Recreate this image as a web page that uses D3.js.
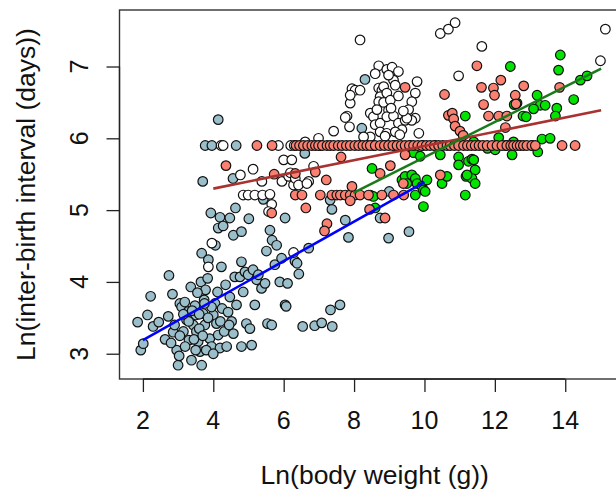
<!DOCTYPE html>
<html>
<head>
<meta charset="utf-8">
<script src="https://cdn.jsdelivr.net/npm/d3@7"></script>
<style>
  html, body { margin: 0; padding: 0; background: #fff; }
  svg { display: block; font-family: "Liberation Sans", Arial, sans-serif; }
</style>
</head>
<body>
<svg id="chart" width="616" height="491"></svg>
<script>
// Ln(body weight) vs Ln(inter-birth interval), four groups plus per-group fits

const xTicks = [2, 4, 6, 8, 10, 12, 14];
const yTicks = [3, 4, 5, 6, 7];
const xTitle = "Ln(body weight (g))";
const yTitle = "Ln(inter-birth interval (days))";

// light blue group
const bluePts = [
  [1.85,3.44],[1.94,3.05],[2.01,3.14],[2.13,3.54],[2.22,3.80],[2.29,3.38],[2.45,3.44],[2.63,3.20],
  [2.74,4.09],[2.72,3.52],[2.84,3.83],[2.86,3.30],[2.96,3.05],[3.00,2.84],[3.03,2.97],[3.05,3.70],
  [3.10,3.65],[3.15,3.31],[3.19,3.72],[3.24,3.47],[3.29,3.59],[3.31,3.19],[3.36,3.93],[3.38,2.91],
  [3.43,3.40],[3.48,3.67],[3.50,3.54],[3.52,3.31],[3.57,3.17],[3.62,3.03],[3.65,4.00],[3.67,2.84],
  [3.67,4.40],[3.71,3.56],[3.74,3.75],[3.76,3.40],[3.78,3.89],[3.84,4.05],[3.86,4.31],[3.90,3.21],
  [3.95,3.10],[4.00,3.54],[4.05,3.70],[4.06,4.51],[4.09,3.42],[4.12,3.86],[4.14,3.26],[4.19,3.08],
  [4.23,4.21],[4.25,3.63],[4.31,3.31],[4.35,3.96],[4.38,3.10],[4.42,3.58],[4.47,3.79],[4.52,3.45],
  [4.57,3.28],[4.61,4.07],[4.66,3.68],[4.76,4.07],[4.80,3.10],[4.85,3.86],[4.90,4.14],[4.94,3.42],
  [4.99,4.10],[5.04,3.35],[5.09,3.12],[5.13,4.17],[5.18,3.68],[5.23,4.03],[5.28,4.10],[5.37,3.91],
  [5.47,3.98],[5.51,4.43],[5.54,3.42],[5.61,4.72],[5.66,3.40],[5.67,4.58],[5.75,4.24],[5.80,4.51],
  [5.89,4.00],[5.94,4.33],[6.04,3.68],[4.14,4.75],[4.57,4.65],[4.80,4.70],[4.80,4.28],
  [3.20,3.10],[3.45,3.20],[3.60,3.35],[3.70,3.25],[3.85,3.50],[3.95,3.65],[3.55,3.85],[3.30,3.45],
  [3.15,3.55],[2.90,3.40],[3.05,3.25],[3.40,3.60],[3.80,3.05],[4.20,3.45],[4.00,3.00],[3.60,3.55],
  [3.75,3.70],[2.80,3.15],[3.50,3.05],[4.45,3.40],
  [4.14,6.26],[3.77,5.90],[3.96,5.90],[4.65,5.90],[3.70,5.40],[4.56,5.44],[5.42,5.15],[3.93,4.96],
  [4.19,4.90],[4.47,4.89],[4.63,5.03],[5.01,4.88],[4.28,4.78],[6.04,4.89],[6.60,5.79],[6.32,4.29],
  [6.38,4.26],[6.43,4.11],[6.54,3.38],[6.71,4.47],[6.88,3.39],[7.08,3.43],[7.33,3.61],[7.38,3.38],
  [7.60,3.68],[7.32,5.14],[7.37,5.01],[7.75,4.86],[7.84,4.62],[8.22,6.14],[8.31,6.82],[8.74,4.89],
  [8.98,4.61],[9.56,4.70],[9.00,5.26],[6.11,3.98],[6.07,3.66]
];

// open (unfilled) group
const openPts = [
  [3.96,4.54],[3.86,4.21],[4.22,5.90],[4.28,5.90],[5.85,5.90],[6.61,5.95],[6.99,6.00],[6.00,5.70],
  [6.23,5.70],[5.13,5.57],[4.77,5.49],[5.38,5.40],[5.95,5.40],[6.14,5.47],[6.28,5.35],[6.71,5.40],
  [6.85,5.61],[6.19,5.52],[6.33,5.44],[6.42,5.35],[6.66,5.37],[4.85,5.21],[4.99,5.21],[5.18,5.21],
  [5.40,5.21],[5.61,5.22],[5.66,5.08],[5.57,4.98],[6.28,4.41],[7.42,6.10],[7.80,6.31],[7.87,6.16],
  [7.89,6.49],[7.94,6.69],[8.03,6.67],[8.17,6.67],[7.89,6.60],[7.75,6.29],[8.17,7.37],[8.70,7.01],
  [8.60,6.90],[8.93,6.96],[9.08,6.99],[9.26,6.93],[9.12,6.81],[9.79,6.79],[9.74,6.63],[9.64,6.51],
  [9.55,6.40],[9.74,6.28],[8.70,6.70],[8.79,6.67],[8.84,6.72],[8.74,6.58],[8.93,6.63],[8.70,6.51],
  [8.84,6.50],[9.03,6.53],[9.26,6.59],[8.98,6.39],[8.46,6.35],[8.55,6.30],[8.60,6.19],[8.74,6.21],
  [8.93,6.30],[9.12,6.31],[9.26,6.21],[9.45,6.25],[9.36,6.12],[9.64,6.25],[8.74,6.09],[8.93,6.07],
  [9.17,6.09],[8.46,6.02],[9.84,6.07],[8.27,6.02],[8.88,6.03],[10.45,7.46],[10.68,7.52],[10.87,7.61],
  [11.63,7.28],[10.97,6.87],[15.14,7.52],[15.00,7.08],[9.50,6.28],[8.98,6.88],[9.17,6.74],[9.05,6.42],
  [8.65,6.40],[9.40,6.38],[9.30,6.05],[6.20,5.90],[6.30,5.90],[7.05,5.90],[8.55,5.90],[9.15,5.90],
  [9.60,5.90]
];

// green group
const greenPts = [
  [8.46,5.21],[8.55,5.19],[8.51,5.58],[8.60,5.03],[9.36,5.42],[9.45,5.47],[9.50,5.37],[9.64,5.49],
  [9.74,5.44],[9.79,5.37],[9.74,5.21],[9.93,5.33],[9.97,5.28],[10.02,5.26],[9.97,5.05],[10.07,5.42],
  [9.69,5.80],[9.88,5.75],[10.45,5.77],[10.50,5.37],[10.64,5.47],[10.97,5.74],[10.97,5.63],[11.16,5.21],
  [11.18,5.47],[11.25,5.68],[11.35,5.71],[11.40,5.70],[11.44,5.56],[11.35,5.44],[11.44,5.37],[11.21,5.49],
  [11.16,6.31],[11.40,5.95],[11.79,5.86],[12.11,6.01],[12.01,5.84],[12.49,5.77],[12.53,5.95],[13.22,5.81],
  [13.34,5.99],[13.57,6.00],[12.44,7.00],[13.86,7.16],[13.81,6.95],[14.43,6.81],[14.62,6.87],[14.24,6.54],
  [13.20,6.60],[13.29,6.46],[13.10,6.41],[13.43,6.46],[12.63,6.49],[12.55,6.47],[12.80,6.31],[12.89,6.30],
  [13.76,6.42],[13.72,6.31],[10.30,5.90],[12.30,5.90],[13.05,5.90],[9.95,5.90]
];

// salmon group
const salmonPts = [
  // annual interval (ln 365)
  [5.24,5.90],[5.67,5.90],[6.35,5.90],[6.45,5.90],[6.56,5.90],[6.68,5.90],[6.80,5.90],[6.90,5.90],
  [6.99,5.90],[7.10,5.90],[7.23,5.90],[7.32,5.90],[7.42,5.90],[7.55,5.90],[7.66,5.90],[7.78,5.90],
  [7.89,5.90],[8.02,5.90],[8.13,5.90],[8.25,5.90],[8.36,5.90],[8.46,5.90],[8.60,5.90],[8.74,5.90],
  [8.86,5.90],[8.98,5.90],[9.10,5.90],[9.22,5.90],[9.34,5.90],[9.45,5.90],[9.57,5.90],[9.69,5.90],
  [9.81,5.90],[9.93,5.90],[10.05,5.90],[10.16,5.90],[10.28,5.90],[10.40,5.90],[10.52,5.90],[10.64,5.90],
  [10.73,5.90],[10.85,5.90],[10.97,5.90],[11.11,5.90],[11.22,5.90],[11.33,5.90],[11.44,5.90],[11.55,5.90],
  [11.66,5.90],[11.78,5.90],[11.92,5.90],[12.06,5.90],[12.20,5.90],[12.34,5.90],[12.45,5.90],[12.53,5.90],
  [12.63,5.90],[12.72,5.90],[12.81,5.90],[12.91,5.90],[13.05,5.90],[13.15,5.90],[13.91,5.90],[14.28,5.90],
  // half-year interval (ln 182.5)
  [6.33,5.21],[6.52,5.21],[7.04,5.21],[7.37,5.21],[7.51,5.21],[7.61,5.21],[7.75,5.21],[7.89,5.21],
  [8.03,5.21],[8.17,5.21],[8.41,5.21],[8.79,5.21],[9.12,5.21],[9.41,5.21],
  // remaining records
  [7.89,5.13],[7.94,5.33],[4.36,5.62],[5.66,4.96],[5.73,5.50],[6.33,5.51],[6.63,5.03],[6.90,5.53],
  [7.23,4.81],[7.16,4.71],[7.21,5.42],[7.63,5.74],[8.44,5.01],[8.74,5.51],[8.88,4.89],[9.03,5.62],
  [9.40,5.37],[9.45,5.77],[9.45,6.71],[10.45,5.49],[10.57,6.61],[10.68,6.32],[10.79,6.35],[10.83,6.27],
  [10.87,6.17],[11.01,6.10],[11.10,6.04],[11.49,7.01],[11.62,6.71],[11.68,6.47],[11.82,6.31],[11.96,6.70],
  [11.99,6.60],[12.17,6.81],[12.11,6.31],[12.34,6.31],[12.30,6.15],[12.58,6.60],[12.60,6.48],[12.82,6.73],
  [13.84,6.71]
];

// least-squares fits: intercept, slope and fitted x range
const fitBlue = { a: 2.64, b: 0.275, from: 2.0, to: 10.0 };
const fitBrown = { a: 4.904, b: 0.0989, from: 4.0, to: 15.02 };
const fitGreen = { a: 3.279, b: 0.2457, from: 7.98, to: 15.02 };

const svg = d3.select("#chart");
const W = 616, H = 491;
const box = { left: 119.5, right: 630, top: 10, bottom: 379 };

svg.append("rect").attr("width", W).attr("height", H).attr("fill", "#fff");

const x = d3.scaleLinear().domain([1.335, 15.84]).range([box.left, box.right]);
const y = d3.scaleLinear().domain([2.648, 7.787]).range([box.bottom, box.top]);

// plot frame
svg.append("rect")
  .attr("x", box.left).attr("y", box.top)
  .attr("width", box.right - box.left).attr("height", box.bottom - box.top)
  .attr("fill", "none").attr("stroke", "#333").attr("stroke-width", 1.4);

// x axis
const gx = svg.append("g").attr("transform", `translate(0,${box.bottom})`)
  .call(d3.axisBottom(x).tickValues(xTicks).tickSize(13).tickFormat(""));
gx.select(".domain").remove();
gx.selectAll(".tick line").attr("stroke", "#222").attr("stroke-width", 1.3);
gx.append("line").attr("x1", x(xTicks[0])).attr("x2", x(xTicks[xTicks.length - 1]))
  .attr("stroke", "#222").attr("stroke-width", 1.3);
svg.append("g").selectAll("text").data(xTicks).join("text")
  .attr("x", d => x(d)).attr("y", 429)
  .attr("text-anchor", "middle").attr("font-size", 25).attr("fill", "#111")
  .text(d => d);

// y axis
const gy = svg.append("g").attr("transform", `translate(${box.left},0)`)
  .call(d3.axisLeft(y).tickValues(yTicks).tickSize(13).tickFormat(""));
gy.select(".domain").remove();
gy.selectAll(".tick line").attr("stroke", "#222").attr("stroke-width", 1.3);
gy.append("line").attr("y1", y(yTicks[0])).attr("y2", y(yTicks[yTicks.length - 1]))
  .attr("stroke", "#222").attr("stroke-width", 1.3);
svg.append("g").selectAll("text").data(yTicks).join("text")
  .attr("transform", d => `translate(88.4,${y(d)}) rotate(-90)`)
  .attr("text-anchor", "middle").attr("font-size", 25).attr("fill", "#111")
  .text(d => d);

// axis titles
svg.append("text").attr("x", (box.left + box.right) / 2).attr("y", 484)
  .attr("text-anchor", "middle").attr("font-size", 26.5).attr("fill", "#111").text(xTitle);
svg.append("text")
  .attr("transform", `translate(34.7,${(box.top + box.bottom) / 2}) rotate(-90)`)
  .attr("text-anchor", "middle").attr("font-size", 26.5).attr("fill", "#111").text(yTitle);

// points
const plotArea = svg.append("g");
function drawPoints(data, fill) {
  plotArea.append("g").selectAll("circle").data(data).join("circle")
    .attr("cx", d => x(d[0])).attr("cy", d => y(d[1])).attr("r", 4.8)
    .attr("fill", fill).attr("stroke", "#111").attr("stroke-width", 1.2);
}
drawPoints(bluePts, "#9ABFCB");
drawPoints(openPts, "#ffffff");
drawPoints(greenPts, "#00E400");
drawPoints(salmonPts, "#FA8072");

// fitted lines
function drawFit(f, color) {
  svg.append("line")
    .attr("x1", x(f.from)).attr("y1", y(f.a + f.b * f.from))
    .attr("x2", x(f.to)).attr("y2", y(f.a + f.b * f.to))
    .attr("stroke", color).attr("stroke-width", 2.6);
}
drawFit(fitBlue, "#0000FF");
drawFit(fitBrown, "#A8322F");
drawFit(fitGreen, "#1B7A1B");
</script>
</body>
</html>
